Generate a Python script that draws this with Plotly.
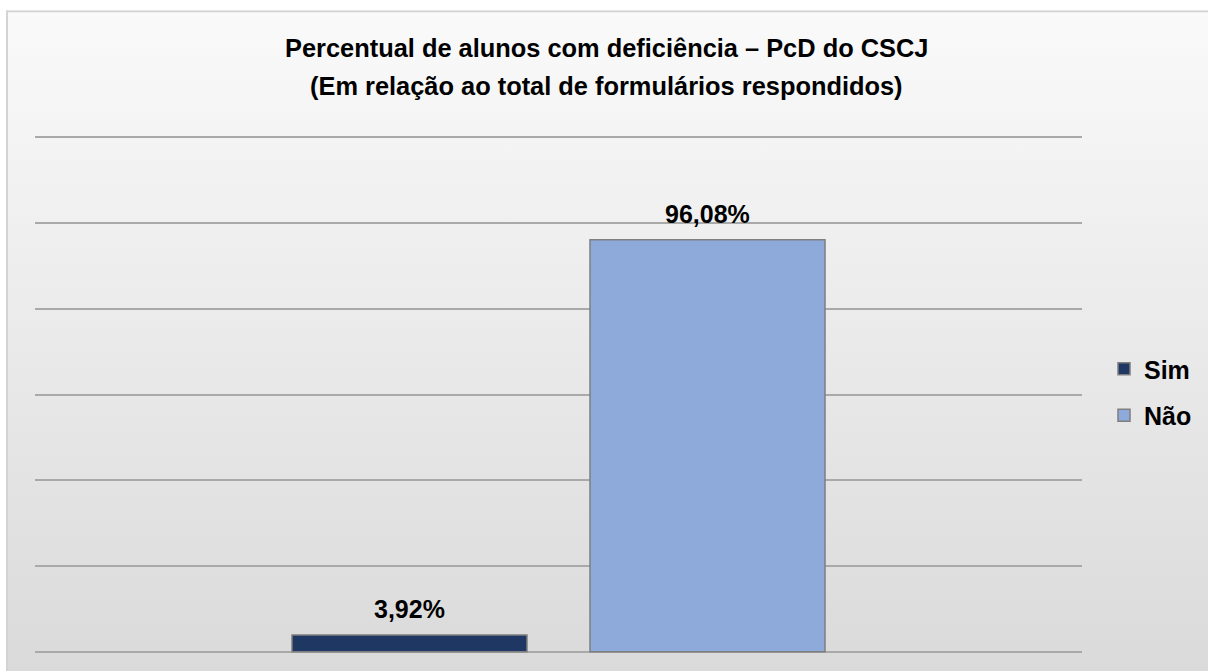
import base64
import plotly.graph_objects as go

series_names = ["Sim", "Não"]
values = [3.92, 96.08]
colors = ["#1f3763", "#8eaadb"]
label_texts = [f"{v:.2f}%".replace(".", ",") for v in values]

title_line1 = "Percentual de alunos com deficiência – PcD do CSCJ"
title_line2 = "(Em relação ao total de formulários respondidos)"

W, H = 1208, 671
YMIN, YMAX = -0.5, 120.5
PLOT_L, PLOT_R = 35, 1082           # pixel extents of the plot area
PX_PER_UNIT = 515 / 120.0
Y0_PIX = 652                         # pixel of value 0
T = Y0_PIX - 120 * PX_PER_UNIT - (YMAX - 120) * PX_PER_UNIT
B = H - (Y0_PIX + (0 - YMIN) * PX_PER_UNIT)
L, R = PLOT_L, W - PLOT_R
PW, PH = W - L - R, H - T - B


def px_x(px):
    return (px - L) / PW


def px_y(py):
    return (H - B - py) / PH


BG_W, BG_H = W + 60, H + 60
svg = (
    f'<svg xmlns="http://www.w3.org/2000/svg" width="{BG_W}" height="{BG_H}" '
    f'viewBox="0 0 {BG_W} {BG_H}" preserveAspectRatio="none">'
    '<defs><linearGradient id="g" gradientUnits="userSpaceOnUse" x1="0" y1="0" x2="0" y2="'
    f'{H - 10}">'
    '<stop offset="0" stop-color="#fafafa"/><stop offset="1" stop-color="#dadada"/>'
    '</linearGradient></defs>'
    f'<rect x="0" y="0" width="{BG_W}" height="{BG_H}" fill="url(#g)"/>'
    f'<line x1="0" y1="1" x2="{BG_W}" y2="1" stroke="#d4d4d4" stroke-width="2"/>'
    f'<line x1="1" y1="0" x2="1" y2="{BG_H}" stroke="#d4d4d4" stroke-width="2"/>'
    '</svg>'
)
src = "data:image/svg+xml;base64," + base64.b64encode(svg.encode()).decode()

fig = go.Figure()
for name, val, col in zip(series_names, values, colors):
    fig.add_trace(go.Bar(
        x=[name], y=[val], name=name, width=0.7886,
        marker=dict(color=col, line=dict(color="#7f7f7f", width=1.5)),
        legendgroup=name, hoverinfo="name+y",
    ))

annotations = [
    dict(text="<b>" + title_line1 + "</b>", xref="paper", yref="paper",
         x=px_x(606.5), y=px_y(48), xanchor="center", yanchor="middle", showarrow=False,
         font=dict(family="Liberation Sans", size=25.4, color="#000000")),
    dict(text="<b>" + title_line2 + "</b>", xref="paper", yref="paper",
         x=px_x(606.5), y=px_y(86), xanchor="center", yanchor="middle", showarrow=False,
         font=dict(family="Liberation Sans", size=25.4, color="#000000")),
]
for name, val, txt in zip(series_names, values, label_texts):
    annotations.append(dict(
        text="<b>" + txt + "</b>", x=name, y=val, xref="x", yref="y",
        yanchor="middle", yshift=26, showarrow=False,
        font=dict(family="Liberation Sans", size=25, color="#000000"),
    ))

fig.update_layout(
    width=W, height=H,
    margin=dict(l=L, r=R, t=T, b=B, autoexpand=False),
    paper_bgcolor="#ffffff", plot_bgcolor="rgba(0,0,0,0)",
    barmode="overlay",
    font=dict(family="Liberation Sans", color="#000000"),
    showlegend=True,
    legend=dict(
        x=px_x(1104), y=px_y(346), xanchor="left", yanchor="top",
        font=dict(family="Liberation Sans", size=25, color="#000000", weight="bold"),
        bgcolor="rgba(0,0,0,0)", traceorder="grouped", tracegroupgap=11,
        itemwidth=30,
    ),
    images=[dict(
        source=src, xref="paper", yref="paper",
        x=px_x(6), y=px_y(10), sizex=BG_W / PW, sizey=BG_H / PH,
        xanchor="left", yanchor="top", sizing="stretch", layer="below",
    )],
    annotations=annotations,
)
fig.update_xaxes(range=[-1.2567, 2.2567], showticklabels=False, showgrid=False,
                 zeroline=False, showline=False)
fig.update_yaxes(range=[YMIN, YMAX], tickvals=[0, 20, 40, 60, 80, 100, 120],
                 showticklabels=False, showgrid=True,
                 gridcolor="#a9a9a9", gridwidth=2, zeroline=False, showline=False)

fig.write_html(
    "out.html",
    config={"displayModeBar": False},
    post_script=("document.body.style.margin='0';document.body.style.overflow='hidden';"
                 "document.documentElement.style.overflow='hidden';"),
)
